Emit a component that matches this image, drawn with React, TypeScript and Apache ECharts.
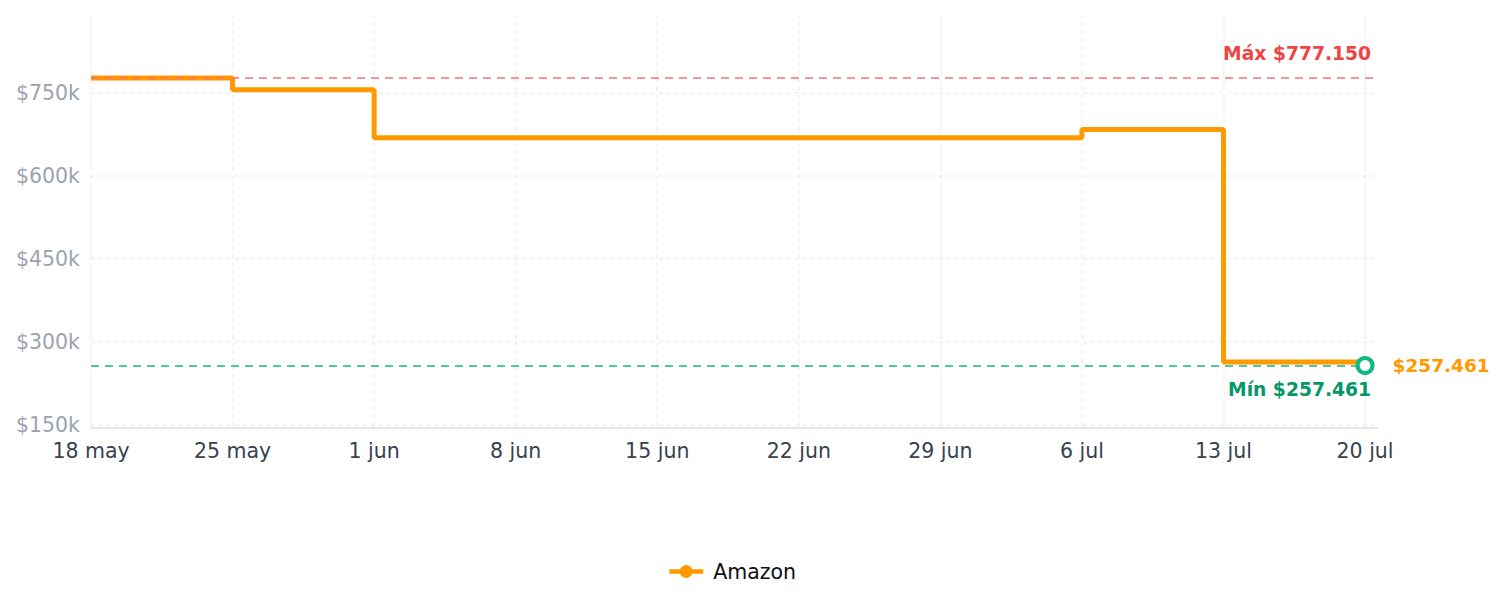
import React, { useEffect, useRef } from "react";
import * as echarts from "echarts";

// Days since 18 May
const dayOffsets = [0, 7, 14, 49, 56, 63];
const amazonPrices = [777150, 756000, 669000, 684000, 264000, 257461];
const xTickLabels = ["18 may", "25 may", "1 jun", "8 jun", "15 jun", "22 jun", "29 jun", "6 jul", "13 jul", "20 jul"];
const seriesName = "Amazon";

const maxPrice = Math.max(...amazonPrices);
const minPrice = Math.min(...amazonPrices);
const lastPrice = amazonPrices[amazonPrices.length - 1];
const lastDay = dayOffsets[dayOffsets.length - 1];

const fmtPrice = (v: number) =>
  "$" + Math.round(v).toString().replace(/\B(?=(\d{3})+(?!\d))/g, ".");

export default function App() {
  const ref = useRef<HTMLDivElement>(null);
  useEffect(() => {
    document.body.style.margin = "0";
    if (!ref.current) return;
    const chart = echarts.init(ref.current, undefined, { renderer: "svg" });
    const font = "DejaVu Sans";
    chart.setOption({
      animation: false,
      textStyle: { fontFamily: font },
      grid: { left: 91, right: 127, top: 15, bottom: 179 },
      xAxis: {
        type: "value",
        min: 0,
        max: 63.64,
        interval: 7,
        axisLine: { show: true, lineStyle: { color: "#e5e7eb", width: 2 } },
        axisTick: { show: false },
        axisLabel: {
          color: "#374151",
          fontSize: 20.5,
          fontFamily: font,
          margin: 12,
          formatter: (v: number) => {
            const i = Math.round(v / 7);
            return Math.abs(v - i * 7) < 1e-6 ? xTickLabels[i] ?? "" : "";
          },
        },
        splitLine: {
          show: true,
          showMaxLine: false,
          lineStyle: { type: [4, 4], color: "#efefef", width: 1.5 },
        },
      },
      yAxis: {
        type: "value",
        min: 144600,
        max: 891000,
        minInterval: 150000,
        maxInterval: 150000,
        axisLine: { show: false },
        axisTick: { show: false },
        axisLabel: {
          color: "#9ca3af",
          fontSize: 20.5,
          fontFamily: font,
          margin: 11,
          formatter: (v: number) => (v % 150000 === 0 ? `$${v / 1000}k` : ""),
        },
        splitLine: {
          show: true,
          showMaxLine: false,
          lineStyle: { type: [4, 4], color: "#efefef", width: 1.5 },
        },
      },
      legend: {
        left: 662,
        top: 556,
        itemWidth: 34,
        itemHeight: 16,
        lineStyle: { width: 4.5 },
        textStyle: { fontSize: 20.5, color: "#111", fontFamily: font, padding: [0, 0, 0, 5] },
        data: [seriesName],
      },
      series: [
        {
          name: seriesName,
          type: "line",
          step: "end",
          symbol: "circle",
          showSymbol: false,
          color: "#ff9900",
          lineStyle: { color: "#ff9900", width: 5 },
          itemStyle: { color: "#ff9900" },
          data: dayOffsets.map((d, i) => [d, amazonPrices[i]]),
          markLine: {
            symbol: "none",
            silent: true,
            data: [
              {
                yAxis: maxPrice,
                lineStyle: { color: "#f87171", type: [8, 6], width: 1.5 },
                label: {
                  show: true,
                  position: "insideEndTop",
                  formatter: "Máx " + fmtPrice(maxPrice),
                  color: "#ef4444",
                  fontWeight: "bold",
                  fontSize: 18.7,
                  fontFamily: font,
                  distance: [7, 15],
                },
              },
              {
                yAxis: minPrice,
                lineStyle: { color: "#10b981", type: [8, 6], width: 1.5 },
                label: {
                  show: true,
                  position: "insideEndBottom",
                  formatter: "Mín " + fmtPrice(minPrice),
                  color: "#059669",
                  fontWeight: "bold",
                  fontSize: 18.7,
                  fontFamily: font,
                  distance: [7, 14],
                },
              },
            ],
          },
          markPoint: {
            symbol: "circle",
            symbolSize: 15,
            itemStyle: { color: "#ffffff", borderColor: "#10b981", borderWidth: 4 },
            label: {
              show: true,
              position: "right",
              distance: 18,
              formatter: fmtPrice(lastPrice),
              color: "#ff9900",
              fontWeight: "bold",
              fontSize: 18.5,
              fontFamily: font,
            },
            data: [{ coord: [lastDay, lastPrice] }],
          },
        },
      ],
    });
    return () => chart.dispose();
  }, []);
  return <div ref={ref} style={{ width: 1505, height: 607 }} />;
}
